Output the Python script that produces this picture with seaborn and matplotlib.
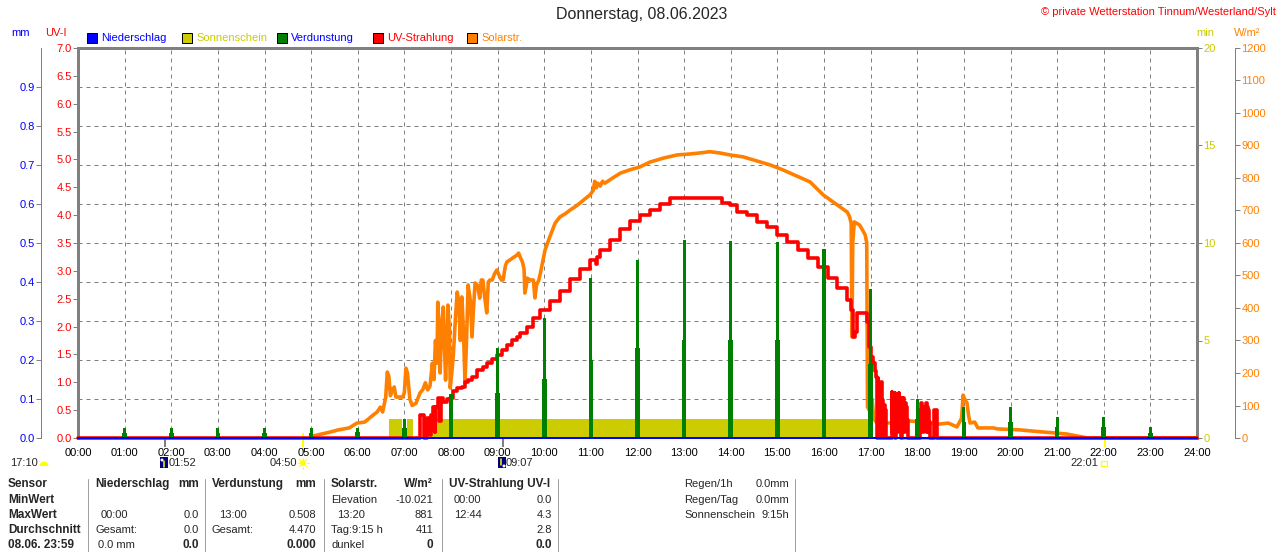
import numpy as np
import pandas as pd
import matplotlib
matplotlib.use("Agg")
import matplotlib.pyplot as plt
import matplotlib.transforms as mtransforms
from matplotlib.patches import Rectangle, Wedge, Circle
from matplotlib.lines import Line2D
from matplotlib.ticker import FixedLocator
import seaborn as sns

# ------------------------------------------------------------------ data
hour_ticks = list(range(25))
hour_labels = [f"{h:02d}:00" for h in hour_ticks]

# UV-Strahlung (UV-I), minute of day / value
uv_minute = [0, 439, 440, 444, 445, 448, 449, 452, 453, 454, 456, 457, 459, 460,
             462, 463, 465, 467, 470, 475, 479, 483, 488, 494, 498, 502, 507, 513,
             521, 526, 533, 539, 546, 552, 559, 565, 569, 578, 586, 595, 607, 620,
             633, 646, 659, 666, 668, 672, 685, 698, 710, 723, 736, 749, 762, 827,
             829, 839, 848, 861, 874, 887, 900, 913, 926, 939, 952, 965, 977, 990,
             995, 997, 1000, 1002, 1010, 1015, 1018, 1021, 1023, 1025, 1027, 1028,
             1029, 1030, 1031, 1032, 1033, 1034, 1035, 1036, 1037, 1038, 1039, 1040,
             1046, 1047, 1048, 1049, 1050, 1051, 1052, 1053, 1054, 1055, 1056, 1057,
             1058, 1059, 1060, 1061, 1062, 1063, 1064, 1065, 1066, 1067, 1068, 1082,
             1083, 1084, 1085, 1086, 1087, 1088, 1089, 1090, 1091, 1092, 1093, 1094,
             1095, 1096, 1101, 1102, 1104, 1105, 1440]
uv_index = [0, 0, 0.41, 0.41, 0, 0, 0.36, 0.36, 0.05, 0.41, 0.15, 0.56, 0.1, 0.56,
            0.56, 0.72, 0.3, 0.72, 0.65, 0.7, 0.72, 0.85, 0.9, 0.92, 1.0, 1.04, 1.1, 1.22,
            1.28, 1.35, 1.42, 1.49, 1.58, 1.67, 1.75, 1.82, 1.88, 2.0, 2.15, 2.3, 2.45, 2.64,
            2.85, 3.03, 3.2, 3.12, 3.25, 3.37, 3.55, 3.75, 3.9, 4.0, 4.09, 4.2, 4.3, 4.3,
            4.22, 4.18, 4.06, 4.0, 3.88, 3.79, 3.64, 3.52, 3.37, 3.23, 3.07, 2.87, 2.69, 2.48,
            2.3, 1.81, 1.9, 2.24, 2.24, 2.08, 1.63, 1.45, 1.35, 1.2, 1.1, 0,
            1.08, 0.2, 0.74, 0, 1.0, 0.1, 0.68, 0, 0.6, 0.1, 0.5, 0,
            0, 0.82, 0.1, 0.75, 0.3, 0.8, 0, 0.38, 0.1, 0.7, 0.81, 0.2,
            0.5, 0, 0.72, 0.3, 0.72, 0.1, 0.62, 0.2, 0.55, 0.32, 0, 0,
            0.5, 0.1, 0.62, 0.2, 0.45, 0.1, 0.56, 0.2, 0.62, 0.1, 0.55, 0.5,
            0.29, 0, 0, 0.5, 0.5, 0, 0]

# Solarstrahlung W/m2
solar_minute = [302, 324, 335, 349, 359, 369, 380, 385, 389, 392, 396, 398, 400, 402,
                405, 407, 409, 411, 414, 418, 420, 422, 424, 427, 430, 435, 440, 444,
                447, 450, 453, 456, 458, 460, 462, 463, 465, 466, 468, 470, 472, 473,
                475, 476, 478, 479, 481, 483, 486, 488, 490, 492, 494, 496, 498, 500,
                502, 505, 507, 509, 511, 514, 517, 519, 521, 523, 526, 528, 530, 533,
                536, 539, 542, 545, 547, 550, 552, 556, 560, 565, 567, 569, 572, 574,
                575, 577, 578, 582, 586, 588, 590, 593, 595, 601, 607, 614, 620, 627,
                633, 640, 646, 652, 659, 663, 665, 667, 669, 672, 675, 678, 683, 688,
                698, 710, 723, 736, 753, 771, 788, 800, 813, 826, 839, 856, 874, 891,
                907, 925, 942, 959, 977, 990, 993, 995, 996, 997, 999, 1006, 1013, 1015,
                1016, 1017, 1018, 1020, 1021, 1022, 1024, 1027, 1032, 1045, 1058, 1087,
                1109, 1120, 1131, 1137, 1139, 1141, 1144, 1146, 1148, 1154, 1158, 1178,
                1183, 1212, 1225, 1244, 1260, 1273, 1286, 1300, 1440]
solar_wm2 = [6, 18, 25, 31, 46, 49, 71, 80, 95, 80, 126, 203, 190, 130,
             150, 157, 126, 126, 126, 126, 140, 215, 200, 120, 100, 107, 138, 150,
             170, 148, 160, 230, 180, 300, 230, 418, 300, 200, 350, 403, 250, 178,
             300, 409, 330, 154, 200, 255, 380, 449, 420, 300, 434, 332, 169, 300,
             471, 420, 311, 400, 477, 470, 430, 486, 486, 440, 385, 480, 486, 486,
             505, 517, 500, 486, 486, 530, 542, 548, 555, 563, 569, 557, 541, 520,
             446, 470, 492, 486, 486, 431, 470, 486, 507, 578, 618, 661, 680, 690,
             701, 712, 723, 735, 748, 762, 790, 770, 784, 775, 790, 784, 792, 800,
             815, 825, 834, 849, 861, 871, 874, 877, 881, 877, 871, 865, 852, 840,
             825, 806, 788, 748, 717, 695, 680, 660, 311, 600, 665, 655, 625, 600,
             95, 95, 86, 160, 70, 120, 60, 49, 49, 46, 55, 49,
             43, 46, 34, 60, 132, 120, 108, 70, 46, 49, 31, 31,
             28, 25, 22, 18, 15, 12, 6, 0, 0]

# Sonnenschein (minutes per minute)
sun_start_min = [400, 423, 453]
sun_end_min = [417, 431, 1017]
sun_value = [1.0, 1.0, 1.0]
dusk_min = [1060, 1300]
dusk_value = [0.0, 0.0]

# Verdunstung per hour (mm)
evap_hour = list(range(1, 24))
evap_mm = [0.026, 0.026, 0.026, 0.026, 0.026, 0.026, 0.05, 0.113, 0.23, 0.308, 0.41,
           0.456, 0.508, 0.505, 0.503, 0.485, 0.382, 0.10, 0.08, 0.08, 0.055, 0.055, 0.028]
evap_mm_low = [0.013, 0.013, 0.013, 0.013, 0.013, 0.015, 0.025, 0.055, 0.115, 0.15, 0.2,
               0.23, 0.25, 0.25, 0.25, 0.24, 0.19, 0.05, 0.04, 0.04, 0.027, 0.027, 0.013]

# Niederschlag
precip_minute = [0, 1440]
precip_mm = [0.0, 0.0]

# Astro events
event_hours = [1 + 52 / 60, 4 + 50 / 60, 9 + 7 / 60, 22 + 1 / 60]
event_labels = ["01:52", "04:50", "09:07", "22:01"]
event_colors = ["#808080", "#ffff00", "#808080", "#ffff00"]

# table
table_rows_y = [484, 500, 515, 530, 545]
sensor_col = ["Sensor", "MinWert", "MaxWert", "Durchschnitt", "08.06. 23:59"]

# ------------------------------------------------------------------ style
sns.set_style("white")
NARROW = ["Liberation Sans Narrow", "Liberation Sans", "DejaVu Sans"]
plt.rcParams["font.family"] = NARROW
FS = 8
FSB = 8.5

BLUE = "#0000ff"
YEL = "#cccc00"
GREEN = "#008000"
RED = "#ff0000"
ORANGE = "#ff8000"
GREY = "#808080"
PX = 0.72  # one pixel in points at 100 dpi

W, H = 1280, 552
fig = plt.figure(figsize=(12.8, 5.52), dpi=100)
fig.patch.set_facecolor("white")


def fx(x):
    return x / W


def fy(y):
    return 1 - y / H


L, R, T, B = 78, 1197, 48, 438
ax_min = fig.add_axes([fx(L), fy(B), (R - L) / W, (B - T) / H])
ax_w = ax_min.twinx()
ax_uv = ax_min.twinx()
ax_mm = ax_min.twinx()
ax_min.yaxis.tick_right()
ax_min.set_zorder(1)
ax_w.set_zorder(2)
ax_uv.set_zorder(3)
ax_mm.set_zorder(4)
for a in (ax_w, ax_uv, ax_mm):
    a.patch.set_visible(False)
    for s in a.spines.values():
        s.set_visible(False)

# ---- host (min axis + grid + x axis)
ax_min.set_xlim(0, 24)
ax_min.set_ylim(0, 20)
for s in ("top", "left", "right"):
    ax_min.spines[s].set_color(GREY)
    ax_min.spines[s].set_linewidth(3 * PX)
ax_min.spines["bottom"].set_color(GREY)
ax_min.spines["bottom"].set_linewidth(1 * PX)
ax_min.set_yticks([0, 5, 10, 15, 20])
ax_min.set_yticklabels(["0", "5", "10", "15", "20"])
ax_min.yaxis.set_minor_locator(FixedLocator(list(range(2, 20, 2))))
ax_min.tick_params(axis="y", which="major", direction="out", length=5 * PX, width=PX,
                   color=GREY, pad=1, labelsize=FS, labelcolor=YEL)
ax_min.tick_params(axis="y", which="minor", length=0)
ax_min.grid(False)
for h in range(1, 24):
    ax_min.axvline(h, color=GREY, lw=PX, ls=(0, (4, 4)), zorder=0)
for m in range(2, 20, 2):
    ax_min.axhline(m, color=GREY, lw=PX, ls=(0, (4, 4)), zorder=0)

# sunshine bars
for s0, s1, v in zip(sun_start_min, sun_end_min, sun_value):
    ax_min.bar(s0 / 60, v, width=(s1 - s0) / 60, align="edge", color=YEL, lw=0, zorder=2)
ax_min.plot(np.array(dusk_min) / 60, dusk_value, color=YEL, lw=3 * PX,
            clip_on=False, zorder=2, solid_capstyle="butt")

# ---- Solar axis (W/m2)
solar_df = pd.DataFrame({"h": np.array(solar_minute) / 60, "w": solar_wm2})
sns.lineplot(data=solar_df, x="h", y="w", ax=ax_w, color=ORANGE, linewidth=3.6 * PX,
             estimator=None, sort=False, legend=False)
for ln in ax_w.lines:
    ln.set_clip_on(False)
ax_w.set_ylim(0, 1200)
ax_w.spines["right"].set_visible(True)
ax_w.spines["right"].set_position(("axes", (1235 - L) / (R - L)))
ax_w.spines["right"].set_color(GREY)
ax_w.spines["right"].set_linewidth(PX)
ax_w.yaxis.tick_right()
ax_w.set_yticks(list(range(0, 1201, 100)))
ax_w.tick_params(axis="y", direction="out", length=5 * PX, width=PX, color=GREY,
                 pad=1, labelsize=FS, labelcolor=ORANGE)
ax_w.set_xlabel("")
ax_w.set_ylabel("")

# ---- UV axis
uv_df = pd.DataFrame({"h": np.array(uv_minute) / 60, "uv": uv_index})
sns.lineplot(data=uv_df, x="h", y="uv", ax=ax_uv, color=RED, linewidth=3.6 * PX,
             estimator=None, sort=False, legend=False, drawstyle="steps-post")
for ln in ax_uv.lines:
    ln.set_clip_on(False)
ax_uv.set_ylim(0, 7)
ax_uv.yaxis.tick_left()
ax_uv.set_yticks(np.arange(0, 7.01, 0.5))
ax_uv.set_yticklabels([f"{v:.1f}" for v in np.arange(0, 7.01, 0.5)])
ax_uv.tick_params(axis="y", direction="out", length=5 * PX, width=PX, color=GREY,
                  pad=1, labelsize=FS, labelcolor=RED)
ax_uv.set_xlabel("")
ax_uv.set_ylabel("")

# ---- mm axis (Verdunstung / Niederschlag)
evap_df = pd.DataFrame({"h": evap_hour, "mm": evap_mm, "low": evap_mm_low})
sns.barplot(data=evap_df, x="h", y="low", ax=ax_mm, native_scale=True, width=0.1,
            color=GREEN, saturation=1, errorbar=None, linewidth=0)
sns.barplot(data=evap_df, x="h", y="mm", ax=ax_mm, native_scale=True, width=0.065,
            color=GREEN, saturation=1, errorbar=None, linewidth=0)
prec_df = pd.DataFrame({"h": np.array(precip_minute) / 60, "mm": precip_mm})
sns.lineplot(data=prec_df, x="h", y="mm", ax=ax_mm, color=BLUE, linewidth=2 * PX,
             estimator=None, legend=False)
for ln in ax_mm.lines:
    ln.set_clip_on(False)
ax_mm.set_ylim(0, 1.0)
ax_mm.spines["left"].set_visible(True)
ax_mm.spines["left"].set_position(("axes", (41 - L) / (R - L)))
ax_mm.spines["left"].set_color(GREY)
ax_mm.spines["left"].set_linewidth(PX)
ax_mm.yaxis.tick_left()
ax_mm.set_yticks(np.arange(0, 0.91, 0.1))
ax_mm.set_yticklabels([f"{v:.1f}" for v in np.arange(0, 0.91, 0.1)])
ax_mm.tick_params(axis="y", direction="out", length=5 * PX, width=PX, color=GREY,
                  pad=1, labelsize=FS, labelcolor=BLUE)
ax_mm.set_xlabel("")
ax_mm.set_ylabel("")

ax_min.set_xlim(0, 24)
ax_min.set_xticks(hour_ticks)
ax_min.set_xticklabels(hour_labels)
ax_min.tick_params(axis="x", length=0, pad=7, labelsize=FS, labelcolor="black")
ax_min.set_xlabel("")
ax_min.set_ylabel("")

# event tick marks below axis
btrans = mtransforms.blended_transform_factory(ax_min.transData, ax_min.transAxes)
for eh, ec in zip(event_hours, event_colors):
    y0 = 0 if ec == GREY else (0.012 if eh < 12 else 0)
    ax_min.plot([eh, eh], [y0, -9 / 390], color=ec, lw=2 * PX, transform=btrans,
                clip_on=False, zorder=6, solid_capstyle="butt")

# ------------------------------------------------------------------ texts
fig.text(0.5015, fy(15), "Donnerstag, 08.06.2023", ha="center", va="center",
         fontsize=11.5, family=["Liberation Sans", "DejaVu Sans"])
fig.text(fx(1276), fy(12), "\u00a9 private Wetterstation Tinnum/Westerland/Sylt",
         ha="right", va="center", color=RED, fontsize=FS)

fig.text(fx(30), fy(33), "mm", ha="right", va="center", color=BLUE, fontsize=FS)
fig.text(fx(56), fy(33), "UV-I", ha="center", va="center", color=RED, fontsize=FS)
fig.text(fx(1205), fy(33), "min", ha="center", va="center", color=YEL, fontsize=FS)
fig.text(fx(1247), fy(33), "W/m\u00b2", ha="center", va="center", color=ORANGE, fontsize=FS)

legend_items = [("Niederschlag", BLUE, BLUE, 87),
                ("Sonnenschein", YEL, YEL, 182),
                ("Verdunstung", GREEN, BLUE, 277),
                ("UV-Strahlung", RED, RED, 373),
                ("Solarstr.", ORANGE, ORANGE, 467)]
pix = mtransforms.IdentityTransform()
for name, fc, tc, x0 in legend_items:
    fig.add_artist(Rectangle((x0, H - 43), 10, 10, facecolor=fc, edgecolor="black",
                             lw=PX, transform=pix))
    fig.text(fx(x0 + 14), fy(38), name, ha="left", va="center", color=tc, fontsize=FS)

# event row
fig.text(fx(10), fy(463), "17:10", ha="left", va="center", fontsize=FS)
fig.add_artist(Wedge((44, H - 466), 4.5, 0, 180, facecolor="#ffff00", edgecolor="none",
                     transform=pix))
# moonrise icon
fig.add_artist(Rectangle((160, H - 468), 8, 11, facecolor="#000080", edgecolor="none",
                         transform=pix))
fig.add_artist(Line2D([164, 164], [H - 467, H - 461], color="#ffff00", lw=1.5 * PX,
                      transform=pix))
fig.add_artist(Circle((162, H - 460), 1.5, facecolor="white", edgecolor="none",
                      transform=pix))
fig.text(fx(169), fy(463), "01:52", ha="left", va="center", fontsize=FS)
# sunrise icon
fig.add_artist(Circle((303, H - 463), 3, facecolor="#ffff00", edgecolor="none",
                      transform=pix))
for ang in np.arange(0, 360, 45):
    dx, dy = np.cos(np.radians(ang)), np.sin(np.radians(ang))
    fig.add_artist(Line2D([303 + 3.5 * dx, 303 + 5.5 * dx], [H - 463 + 3.5 * dy, H - 463 + 5.5 * dy],
                          color="#ffff00", lw=PX, transform=pix))
fig.text(fx(297), fy(463), "04:50", ha="right", va="center", fontsize=FS)
# moonset icon
fig.add_artist(Rectangle((498, H - 468), 8, 11, facecolor="#000080", edgecolor="none",
                         transform=pix))
fig.add_artist(Line2D([501, 501], [H - 459, H - 465], color="#ffff00", lw=1.5 * PX,
                      transform=pix))
fig.add_artist(Circle((504, H - 466), 1.5, facecolor="white", edgecolor="none",
                      transform=pix))
fig.text(fx(506), fy(463), "09:07", ha="left", va="center", fontsize=FS)
# sunset icon
fig.add_artist(Rectangle((1101, H - 466), 6, 5, facecolor="none", edgecolor="#ffff00",
                         lw=1.2 * PX, transform=pix))
fig.text(fx(1098), fy(463), "22:01", ha="right", va="center", fontsize=FS)

# ------------------------------------------------------------------ table
for xs in (88, 205, 324, 442, 558, 795):
    fig.add_artist(Line2D([xs, xs], [0, H - 479], color="#a0a0a0", lw=PX, transform=pix))

for txt, yy in zip(sensor_col, table_rows_y):
    fig.text(fx(8), fy(yy), txt, ha="left", va="center", fontsize=FSB, weight="bold")

cells = [
    # (x, row, text, align, bold)
    (95, 0, "Niederschlag", "left", True), (199, 0, "mm", "right", True),
    (212, 0, "Verdunstung", "left", True), (316, 0, "mm", "right", True),
    (331, 0, "Solarstr.", "left", True), (433, 0, "W/m\u00b2", "right", True),
    (449, 0, "UV-Strahlung UV-I", "left", True),
    (331, 1, "Elevation", "left", False), (433, 1, "-10.021", "right", False),
    (454, 1, "00:00", "left", False), (552, 1, "0.0", "right", False),
    (101, 2, "00:00", "left", False), (199, 2, "0.0", "right", False),
    (219, 2, "13:00", "left", False), (316, 2, "0.508", "right", False),
    (337, 2, "13:20", "left", False), (433, 2, "881", "right", False),
    (454, 2, "12:44", "left", False), (552, 2, "4.3", "right", False),
    (95, 3, "Gesamt:", "left", False), (199, 3, "0.0", "right", False),
    (212, 3, "Gesamt:", "left", False), (316, 3, "4.470", "right", False),
    (331, 3, "Tag:9:15 h", "left", False), (433, 3, "411", "right", False),
    (552, 3, "2.8", "right", False),
    (98, 4, "0.0 mm", "left", False), (199, 4, "0.0", "right", True),
    (316, 4, "0.000", "right", True),
    (331, 4, "dunkel", "left", False), (433, 4, "0", "right", True),
    (552, 4, "0.0", "right", True),
    (684, 0, "Regen/1h", "left", False), (789, 0, "0.0mm", "right", False),
    (684, 1, "Regen/Tag", "left", False), (789, 1, "0.0mm", "right", False),
    (684, 2, "Sonnenschein", "left", False), (789, 2, "9:15h", "right", False),
]
for x0, r, txt, al, bold in cells:
    fig.text(fx(x0), fy(table_rows_y[r]), txt, ha=al, va="center",
             fontsize=FSB if bold else FS, weight="bold" if bold else "normal")

fig.savefig("out.png", dpi=100, facecolor="white")
